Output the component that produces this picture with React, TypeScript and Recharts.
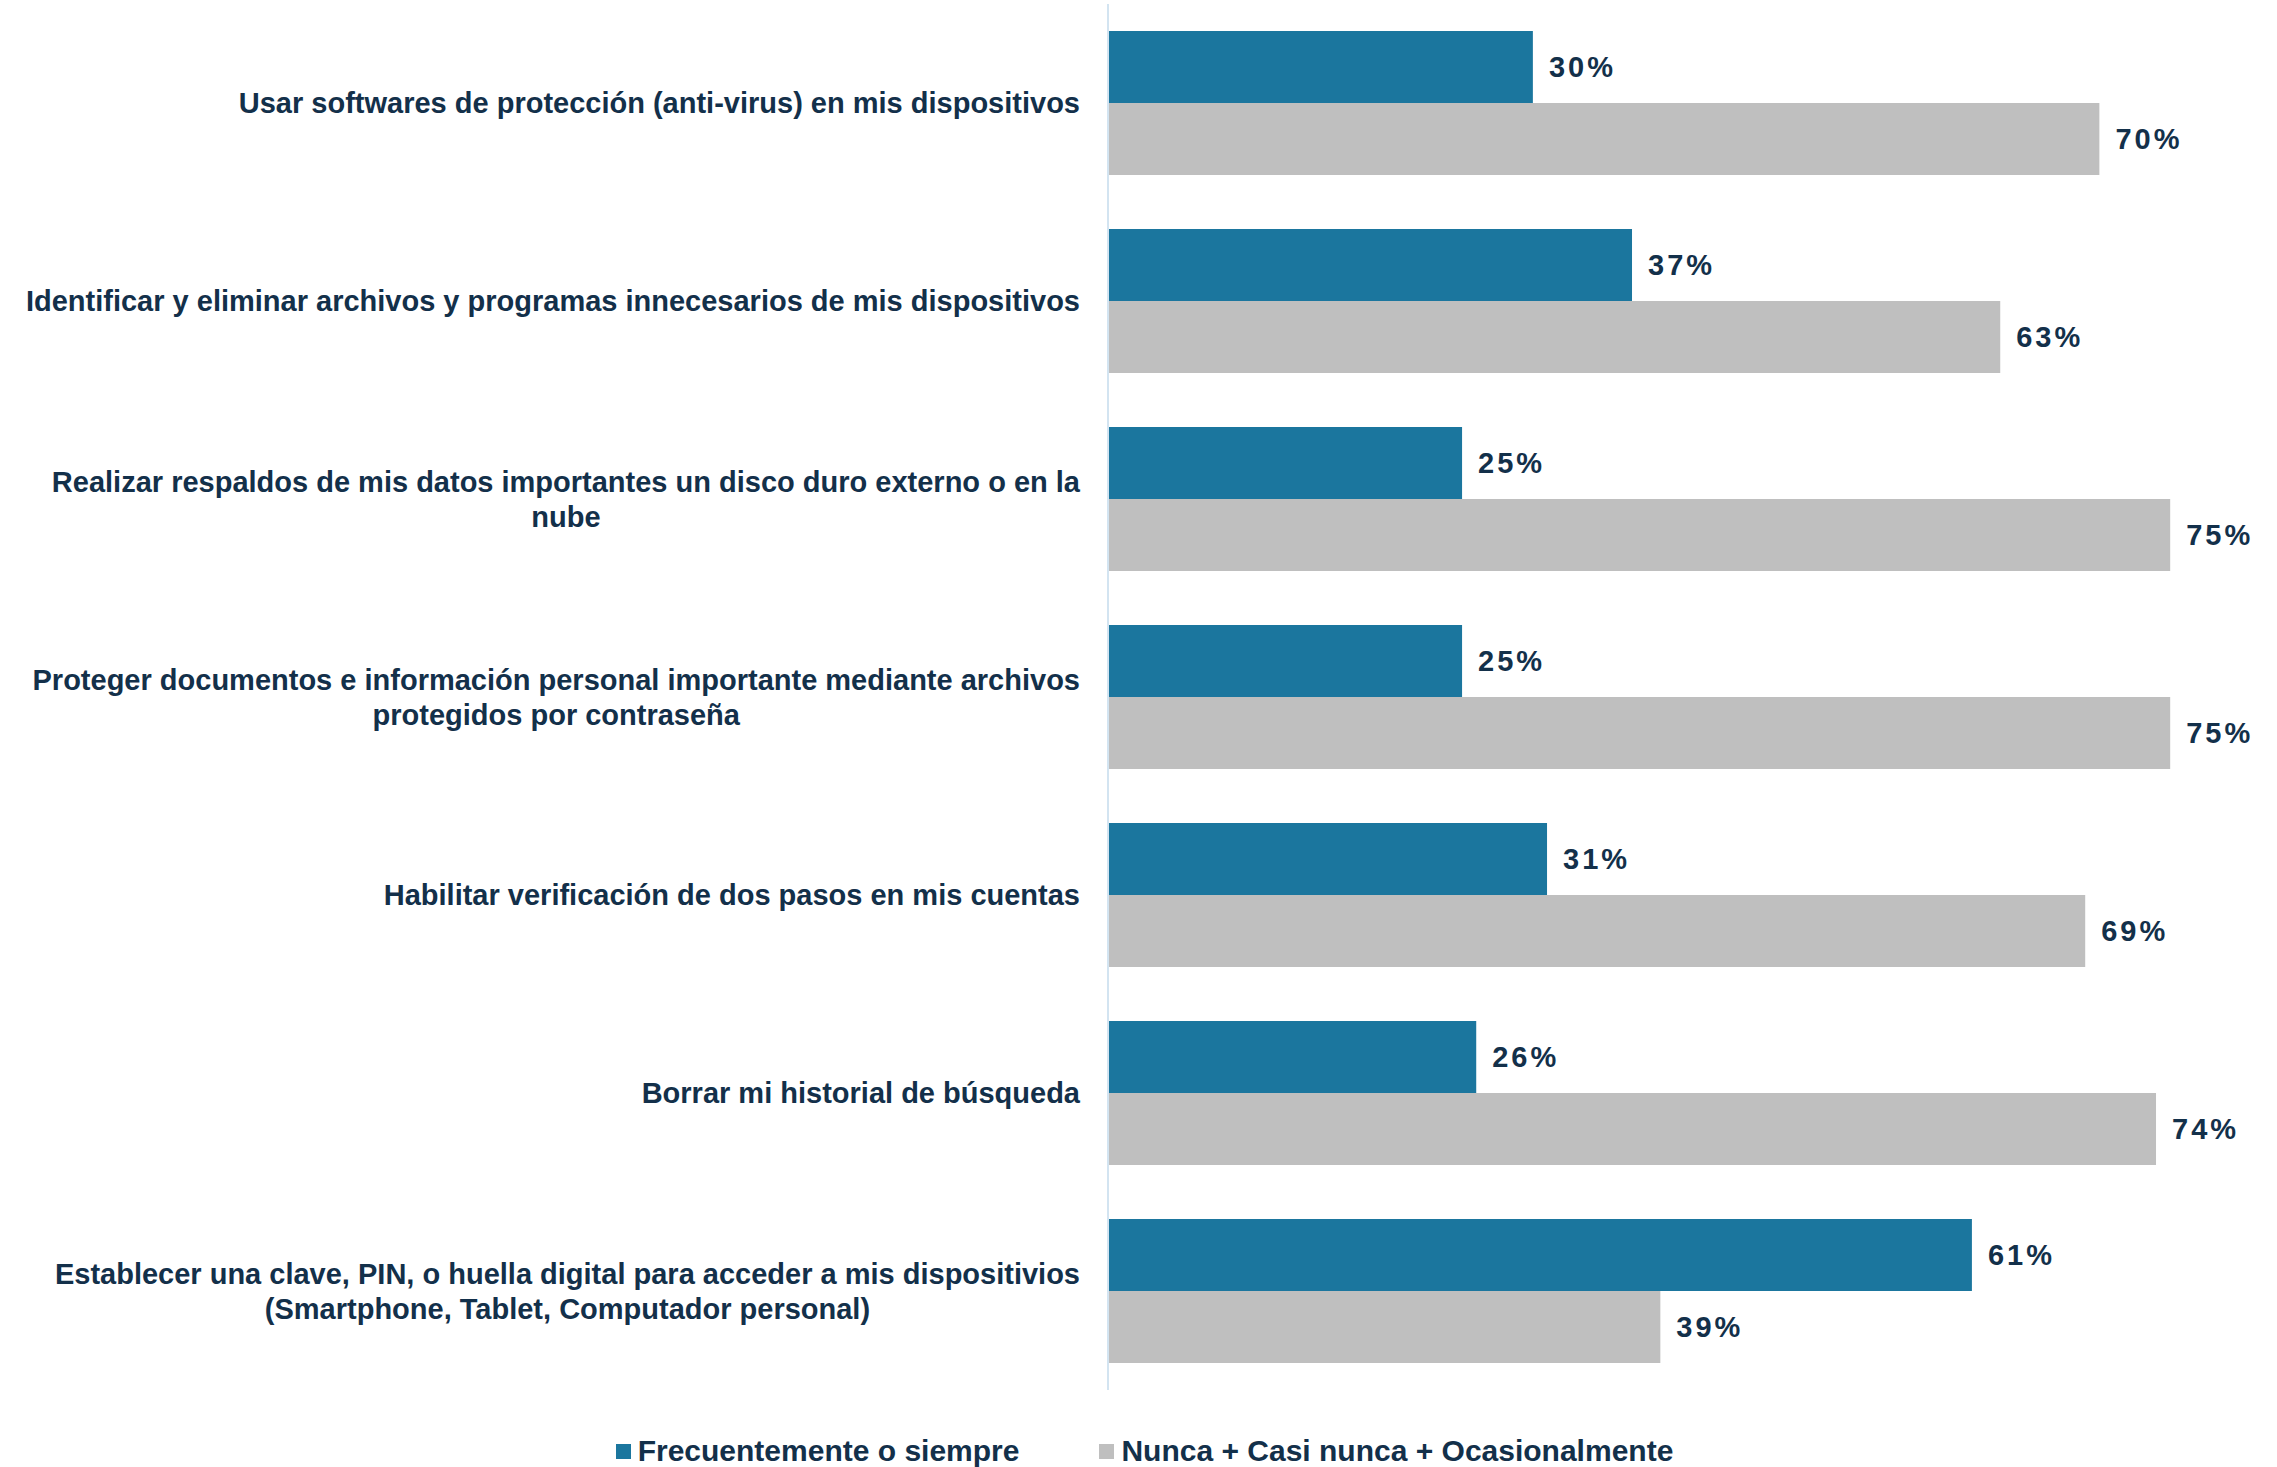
import { BarChart, Bar, XAxis, YAxis, LabelList, Legend } from "recharts";

const categories = [
  ["Usar softwares de protección (anti-virus) en mis dispositivos"],
  ["Identificar y eliminar archivos y programas innecesarios de mis dispositivos"],
  ["Realizar respaldos de mis datos importantes un disco duro externo o en la", "nube"],
  ["Proteger documentos e información personal importante mediante archivos", "protegidos por contraseña"],
  ["Habilitar verificación de dos pasos en mis cuentas"],
  ["Borrar mi historial de búsqueda"],
  [
    "Establecer una clave, PIN, o huella digital para acceder a mis dispositivios",
    "(Smartphone, Tablet, Computador personal)",
  ],
];
const frecuente = [30, 37, 25, 25, 31, 26, 61];
const nunca = [70, 63, 75, 75, 69, 74, 39];
const seriesNames = ["Frecuentemente o siempre", "Nunca + Casi nunca + Ocasionalmente"];

const BLUE = "#1b769e";
const GRAY = "#bfbfbf";
const TEXT = "#13304a";
const FONT = "'Liberation Sans', Arial, sans-serif";
const LABEL_SIZE = 29;

const data = categories.map((lines, i) => ({
  name: lines.join(" "),
  lines,
  frecuente: frecuente[i],
  nunca: nunca[i],
}));

let ctx: CanvasRenderingContext2D | null = null;
function measure(text: string) {
  if (!ctx) ctx = document.createElement("canvas").getContext("2d");
  if (!ctx) return text.length * LABEL_SIZE * 0.5;
  ctx.font = `bold ${LABEL_SIZE}px ${FONT}`;
  return ctx.measureText(text).width;
}

function CategoryTick(props: any) {
  const { x, y, index } = props;
  const lines: string[] = data[index]?.lines ?? [String(props.payload.value)];
  const lineHeight = 35;
  const blockW = Math.max(...lines.map(measure));
  const cx = x - blockW / 2;
  const startY = y - ((lines.length - 1) * lineHeight) / 2;
  return (
    <g>
      {lines.map((line, i) => (
        <text
          key={i}
          x={lines.length === 1 ? x : cx}
          y={startY + i * lineHeight}
          dy="0.35em"
          textAnchor={lines.length === 1 ? "end" : "middle"}
          fill={TEXT}
          fontSize={LABEL_SIZE}
          fontWeight="bold"
          fontFamily={FONT}
        >
          {line}
        </text>
      ))}
    </g>
  );
}

function LegendContent(props: any) {
  const items = props.payload ?? [];
  return (
    <div
      style={{
        height: 77,
        paddingTop: 45,
        paddingLeft: 48,
        boxSizing: "border-box",
        display: "flex",
        justifyContent: "center",
        gap: 80,
        fontFamily: FONT,
        fontSize: 30,
        fontWeight: "bold",
        color: TEXT,
        lineHeight: "30px",
      }}
    >
      {items.map((item: any) => (
        <div key={item.value} style={{ display: "flex", alignItems: "center" }}>
          <span
            style={{
              display: "inline-block",
              width: 15,
              height: 15,
              background: item.color,
              marginRight: 7,
            }}
          />
          {item.value}
        </div>
      ))}
    </div>
  );
}

const valueLabel = {
  position: "right" as const,
  offset: 16,
  fill: TEXT,
  fontSize: 29,
  fontWeight: "bold",
  fontFamily: FONT,
  letterSpacing: 3,
  formatter: (v: number) => `${v}%`,
};

export default function App() {
  return (
    <div style={{ position: "absolute", left: 0, top: 0, background: "#fff" }}>
      <BarChart
        width={2277}
        height={1467}
        data={data}
        layout="vertical"
        margin={{ top: 4, right: 36, bottom: 0, left: 0 }}
        barGap={0}
        barSize={72}
      >
        <XAxis type="number" domain={[0, 80]} hide />
        <YAxis
          type="category"
          dataKey="name"
          width={1108}
          tick={<CategoryTick />}
          tickLine={false}
          tickSize={0}
          tickMargin={28}
          axisLine={{ stroke: "#d3e4f1", strokeWidth: 2 }}
          interval={0}
        />
        <Legend verticalAlign="bottom" content={<LegendContent />} />
        <Bar dataKey="frecuente" name={seriesNames[0]} fill={BLUE} isAnimationActive={false}>
          <LabelList dataKey="frecuente" {...valueLabel} />
        </Bar>
        <Bar dataKey="nunca" name={seriesNames[1]} fill={GRAY} isAnimationActive={false}>
          <LabelList dataKey="nunca" {...valueLabel} />
        </Bar>
      </BarChart>
    </div>
  );
}
